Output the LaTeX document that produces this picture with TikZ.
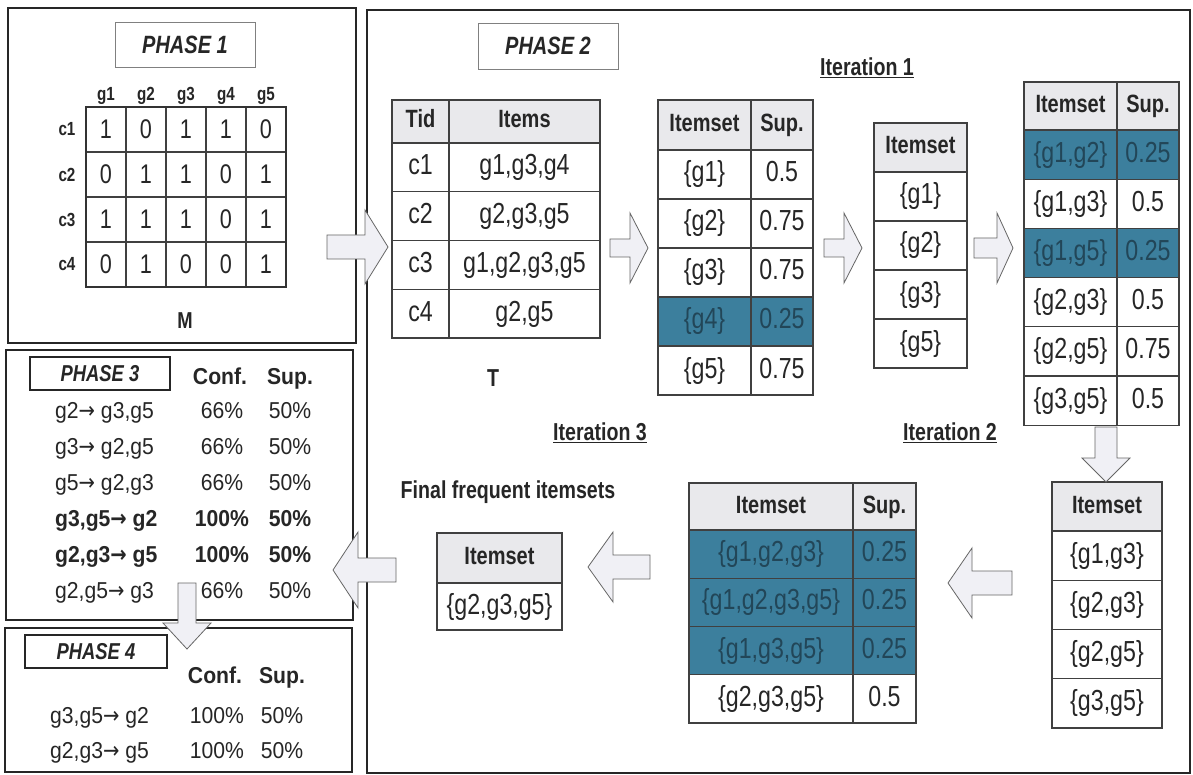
\documentclass[tikz,border=0pt]{standalone}
\usepackage{fontspec}
\setmainfont{Liberation Sans}[FakeStretch=0.8]
\newfontfamily\rulefont{Liberation Sans}[FakeStretch=0.92]
\newfontfamily\arrowfont{DejaVu Sans}[FakeStretch=0.85]
\usetikzlibrary{positioning,calc}

\definecolor{hitblue}{RGB}{60,127,157}
\definecolor{hittxt}{RGB}{34,70,88}
\definecolor{headgray}{RGB}{233,233,236}
\definecolor{arrowfill}{RGB}{240,240,245}

\newcommand{\fsz}[1]{\fontsize{#1}{#1}\selectfont}
\newcommand{\imp}{{\arrowfont →}\ }

\tikzset{
  barrowline/.style={fill=arrowfill,draw=black!60,line width=0.8pt,line join=miter},
  % block arrow, tip at the origin: body length, body half width, head length, head half width
  pics/barrow/.style n args={4}{code={%
    \draw[barrowline] (0,0) -- (-#3,#4) -- (-#3,#2) -- (-#3-#1,#2)
      -- (-#3-#1,-#2) -- (-#3,-#2) -- (-#3,-#4) -- cycle;}}
}

\begin{document}
\begin{tikzpicture}[x=1pt,y=-1pt]
\tikzstyle{panel}=[draw=black!85,line width=1.5pt]
\tikzstyle{phase}=[draw=black!50,line width=0.8pt,inner sep=0pt,text=black!85,font=\fsz{25}\bfseries\itshape]
\tikzstyle{cell}=[draw=black!75,line width=1.1pt,inner sep=0pt,outer sep=0pt,text=black!85,
  text height=21pt,text depth=6pt,font=\fsz{29}]
\tikzstyle{head}=[cell,fill=headgray,text height=18pt,text depth=5pt,font=\fsz{25}\bfseries]
\tikzstyle{plain}=[]
\tikzstyle{hit}=[fill=hitblue,text=hittxt]
\tikzstyle{mcell}=[cell,minimum width=40,minimum height=45,text height=19pt,text depth=0pt,font=\fsz{27}]
\tikzstyle{lab}=[inner sep=0pt,text=black!85,font=\fsz{19}\bfseries]
\tikzstyle{title}=[inner sep=0pt,text=black!85,font=\fsz{24.5}\bfseries]
\tikzstyle{rule}=[inner sep=0pt,text=black!85,text height=16.5pt,text depth=5pt,font=\rulefont\fsz{23}]

\useasboundingbox[fill=white] (0,0) rectangle (1193,775);

% frames
\draw[panel] (8,8) rectangle (356,343);
\draw[panel] (6,350) rectangle (353,620);
\draw[panel] (5,628) rectangle (352,772);
\draw[panel] (367,10) rectangle (1190,773);

% phase 1: matrix M
\node[phase,minimum width=140,minimum height=45] (ph1) at (185,44.5) {PHASE 1};
\foreach \j in {1,...,5}
  \node[lab] (g\j) at (66+40*\j,96) {g\j};
\foreach \row [count=\i] in {{1,0,1,1,0},{0,1,1,0,1},{1,1,1,0,1},{0,1,0,0,1}} {
  \node[lab] (c\i) at (67,84.5+45*\i) {c\i};
  \foreach \v [count=\j] in \row
    \node[mcell] (m\i\j) at (66+40*\j,84.5+45*\i) {\v};
}
\draw[line width=1.8pt,draw=black!80] (m11.north west) rectangle (m45.south east);
\node[lab,font=\fsz{23}\bfseries] (M) at (185,321) {M};

% phase 2: table T
\node[phase,minimum width=140,minimum height=46] (ph2) at (548,46) {PHASE 2};
\node[head,minimum width=57,minimum height=43] (T-h1) at (420.5,121.5) {Tid};
\node[head,minimum width=151,minimum height=43] (T-h2) at (524.5,121.5) {Items};
\foreach \tid/\its [count=\i] in {c1/{g1,g3,g4},c2/{g2,g3,g5},c3/{g1,g2,g3,g5},c4/{g2,g5}} {
  \node[cell,minimum width=57,minimum height=48.75] (T-\i-1) at (420.5,118.625+48.75*\i) {\tid};
  \node[cell,minimum width=151,minimum height=48.75] (T-\i-2) at (524.5,118.625+48.75*\i) {\its};
}
\node[title] (Tlab) at (493,378) {T};

% iteration 1
\node[title] (it1) at (867,68) {\underline{Iteration 1}};
\node[head,minimum width=93,minimum height=50] (C1-h1) at (704.5,125) {Itemset};
\node[head,minimum width=62,minimum height=50] (C1-h2) at (782,125) {Sup.};
\foreach \set/\sv/\st [count=\i] in {\{g1\}/0.5/plain,\{g2\}/0.75/plain,\{g3\}/0.75/plain,\{g4\}/0.25/hit,\{g5\}/0.75/plain} {
  \node[cell,\st,minimum width=93,minimum height=49] (C1-\i-1) at (704.5,125.5+49*\i) {\set};
  \node[cell,\st,minimum width=62,minimum height=49] (C1-\i-2) at (782,125.5+49*\i) {\sv};
}
\node[head,minimum width=93,minimum height=49] (L1-h) at (920.5,147.5) {Itemset};
\foreach \set [count=\i] in {\{g1\},\{g2\},\{g3\},\{g5\}}
  \node[cell,minimum width=93,minimum height=49] (L1-\i) at (920.5,147.5+49*\i) {\set};

\node[head,minimum width=93,minimum height=48] (C2-h1) at (1070.5,106) {Itemset};
\node[head,minimum width=62,minimum height=48] (C2-h2) at (1148,106) {Sup.};
\foreach \set/\sv/\st [count=\i] in {{\{g1,g2\}}/0.25/hit,{\{g1,g3\}}/0.5/plain,{\{g1,g5\}}/0.25/hit,
    {\{g2,g3\}}/0.5/plain,{\{g2,g5\}}/0.75/plain,{\{g3,g5\}}/0.5/plain} {
  \node[cell,\st,minimum width=93,minimum height=49.2] (C2-\i-1) at (1070.5,105.4+49.2*\i) {\set};
  \node[cell,\st,minimum width=62,minimum height=49.2] (C2-\i-2) at (1148,105.4+49.2*\i) {\sv};
}

% iteration 2
\node[title] (it2) at (950,433) {\underline{Iteration 2}};
\node[head,minimum width=110,minimum height=49] (L2-h) at (1107,506.5) {Itemset};
\foreach \set [count=\i] in {{\{g1,g3\}},{\{g2,g3\}},{\{g2,g5\}},{\{g3,g5\}}}
  \node[cell,minimum width=110,minimum height=49.25] (L2-\i) at (1107,506.375+49.25*\i) {\set};

\node[head,minimum width=164,minimum height=47] (C3-h1) at (771,506.5) {Itemset};
\node[head,minimum width=63,minimum height=47] (C3-h2) at (884.5,506.5) {Sup.};
\foreach \set/\sv/\st [count=\i] in {{\{g1,g2,g3\}}/0.25/hit,{\{g1,g2,g3,g5\}}/0.25/hit,
    {\{g1,g3,g5\}}/0.25/hit,{\{g2,g3,g5\}}/0.5/plain} {
  \node[cell,\st,minimum width=164,minimum height=48.25] (C3-\i-1) at (771,505.875+48.25*\i) {\set};
  \node[cell,\st,minimum width=63,minimum height=48.25] (C3-\i-2) at (884.5,505.875+48.25*\i) {\sv};
}

% iteration 3
\node[title] (it3) at (600,433) {\underline{Iteration 3}};
\node[title] (fin) at (508,492) {Final frequent itemsets};
\node[head,minimum width=125,minimum height=50] (F-h) at (499.5,558) {Itemset};
\node[cell,minimum width=125,minimum height=47] (F-1) at (499.5,606.5) {\{g2,g3,g5\}};

% phase 3: rules
\node[phase,draw=black!85,line width=1.2pt,minimum width=140,minimum height=33,font=\fsz{23}\bfseries\itshape] (ph3) at (100,373.5) {PHASE 3};
\node[rule,font=\rulefont\fsz{23}\bfseries] (p3conf) at (220,379) {Conf.};
\node[rule,font=\rulefont\fsz{23}\bfseries] (p3sup) at (290,379) {Sup.};
\foreach \rl/\cf/\ser [count=\i] in {{g2\imp g3,g5}/66/\mdseries,{g3\imp g2,g5}/66/\mdseries,
    {g5\imp g2,g3}/66/\mdseries,{g3,g5\imp g2}/100/\bfseries,{g2,g3\imp g5}/100/\bfseries,
    {g2,g5\imp g3}/66/\mdseries} {
  \node[rule,anchor=west,font=\rulefont\fsz{23}\ser] (p3r-\i) at (55,377+36*\i) {\rl};
  \node[rule,font=\rulefont\fsz{23}\ser] (p3c-\i) at (222,377+36*\i) {\cf\%};
  \node[rule,font=\rulefont\fsz{23}\ser] (p3s-\i) at (290,377+36*\i) {50\%};
}

% phase 4: kept rules
\node[phase,draw=black!85,line width=1.2pt,minimum width=142,minimum height=33,font=\fsz{23}\bfseries\itshape] (ph4) at (96,651.5) {PHASE 4};
\node[rule,font=\rulefont\fsz{23}\bfseries] (p4conf) at (215,678) {Conf.};
\node[rule,font=\rulefont\fsz{23}\bfseries] (p4sup) at (282,678) {Sup.};
\foreach \rl [count=\i] in {{g3,g5\imp g2},{g2,g3\imp g5}} {
  \node[rule,anchor=west] (p4r-\i) at (50,683+35*\i) {\rl};
  \node[rule] (p4c-\i) at (217,683+35*\i) {100\%};
  \node[rule] (p4s-\i) at (282,683+35*\i) {50\%};
}

% block arrows
\pic at (388,247) {barrow={38}{12}{23}{37}};
\pic at (648,248) {barrow={20}{9}{18}{35}};
\pic at (862,248) {barrow={20}{9}{18}{35}};
\pic at (1013,248) {barrow={23}{10}{16}{35}};
\pic[rotate=-90] at (1106,482) {barrow={31}{11}{24}{24}};
\pic[rotate=180] at (948,583) {barrow={40}{12}{24}{35}};
\pic[rotate=180] at (588,567) {barrow={37}{12}{25}{35}};
\pic[rotate=180] at (333,570) {barrow={38}{12}{25}{38}};
\pic[rotate=-90] at (187,649) {barrow={40}{9}{26}{24}};
\end{tikzpicture}
\end{document}
